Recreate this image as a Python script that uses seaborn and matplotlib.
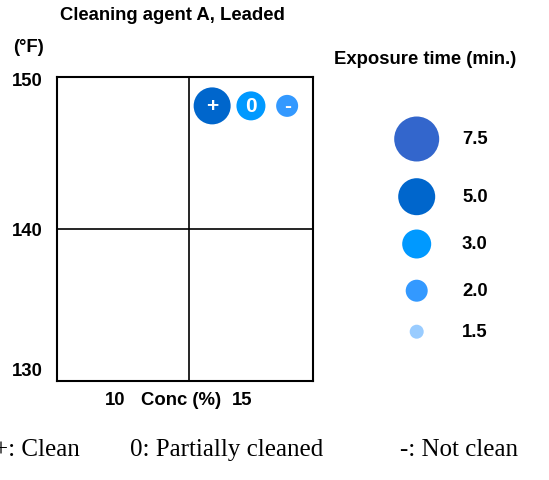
import matplotlib
matplotlib.use("Agg")
import matplotlib.pyplot as plt
import pandas as pd
import seaborn as sns

# ==============================
# Data
# ==============================

exposure_levels = [7.5, 5.0, 3.0, 2.0, 1.5]
exposure_labels = ["7.5", "5.0", "3.0", "2.0", "1.5"]

result_symbols = ["+", "0", "-"]
result_conc = [13.4, 14.9, 16.3]
result_temp = [148.1, 148.1, 148.1]
result_exposure = [5.0, 3.0, 2.0]

temp_labels = ["150", "140", "130"]
conc_labels = ["10", "15"]

# ==============================
# Styling
# ==============================

W, H, DPI = 549, 481, 100

level_colors = {7.5: "#3366CC", 5.0: "#0066CC", 3.0: "#0099FF",
                2.0: "#3399FF", 1.5: "#99CCFF"}
level_diam_px = {7.5: 45, 5.0: 37, 3.0: 29, 2.0: 22, 1.5: 14}
level_sizes = {k: (d * 72 / DPI) ** 2 for k, d in level_diam_px.items()}

sns.set_style("white")
plt.rcParams["font.family"] = ["Liberation Sans", "DejaVu Sans"]

BOLD = dict(fontsize=13.3, fontweight="bold", color="black")


def fx(px):
    return px / W


def fy(py):
    return 1 - py / H


fig = plt.figure(figsize=(W / DPI, H / DPI), dpi=DPI)

# ==============================
# Main quadrant chart
# ==============================

ax = fig.add_axes([fx(57), fy(382), fx(313) - fx(57), fy(78) - fy(382)])

df = pd.DataFrame({"conc": result_conc, "temp": result_temp,
                   "exposure": result_exposure, "symbol": result_symbols})

sns.scatterplot(data=df, x="conc", y="temp", hue="exposure", size="exposure",
                palette=level_colors, sizes=level_sizes, linewidth=0,
                legend=False, ax=ax, zorder=3)

for _, row in df.iterrows():
    ax.text(row["conc"], row["temp"], row["symbol"], ha="center", va="center",
            color="white", fontsize=15, fontweight="bold", zorder=4)

ax.set_xlim(7.4, 17.3)
ax.set_ylim(130, 150)
ax.axvline(12.5, color="black", lw=1.2)
ax.axhline(140, color="black", lw=1.2)
ax.set_xticks([])
ax.set_yticks([])
ax.set_xlabel("")
ax.set_ylabel("")
for sp in ax.spines.values():
    sp.set_color("black")
    sp.set_linewidth(1.5)

# Axis texts
for lab, py in zip(temp_labels, [82, 232, 372]):
    fig.text(fx(43), fy(py), lab, ha="right", va="center", **BOLD)

fig.text(fx(13), fy(47), "(°F)", ha="left", va="center", **BOLD)
fig.text(fx(60), fy(16), "Cleaning agent A, Leaded", ha="left", va="center", **BOLD)

fig.text(fx(115), fy(401), conc_labels[0], ha="center", va="center", **BOLD)
fig.text(fx(181.5), fy(401), "Conc (%)", ha="center", va="center", **BOLD)
fig.text(fx(242.5), fy(401), conc_labels[1], ha="center", va="center", **BOLD)

# ==============================
# Size legend
# ==============================

fig.text(fx(334), fy(59), "Exposure time (min.)", ha="left", va="center", **BOLD)

legend_row_y = [140, 197.7, 245, 291.7, 332.7]
legend_x = 416.7

ax_leg = fig.add_axes([0, 0, 1, 1], facecolor="none")
leg_df = pd.DataFrame({"x": [legend_x] * len(exposure_levels),
                       "y": legend_row_y, "exposure": exposure_levels})
sns.scatterplot(data=leg_df, x="x", y="y", hue="exposure", size="exposure",
                palette=level_colors, sizes=level_sizes, linewidth=0,
                legend=False, ax=ax_leg)
ax_leg.set_xlim(0, W)
ax_leg.set_ylim(H, 0)
ax_leg.axis("off")

for lab, py in zip(exposure_labels, legend_row_y):
    fig.text(fx(462), fy(py), lab, ha="left", va="center", **BOLD)

# ==============================
# Footnote
# ==============================

SERIF = dict(fontsize=18, family=["Liberation Serif", "DejaVu Serif"], color="black")
fig.text(fx(-6), fy(456), "+: Clean", ha="left", va="baseline", **SERIF)
fig.text(fx(130), fy(456), "0: Partially cleaned", ha="left", va="baseline", **SERIF)
fig.text(fx(400), fy(456), "-: Not clean", ha="left", va="baseline", **SERIF)

fig.savefig("out.png", dpi=DPI)
